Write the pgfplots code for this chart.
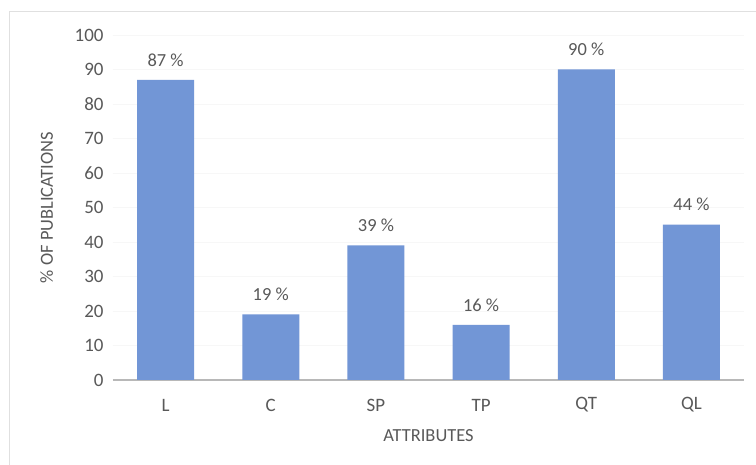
\documentclass[border=0pt]{standalone}
\usepackage{fontspec}
\setmainfont{Carlito}
\usepackage{pgfplots}
\pgfplotsset{compat=1.18}
\definecolor{barblue}{RGB}{114,150,214}
\definecolor{txt}{RGB}{89,89,89}
\begin{document}
\begin{tikzpicture}[x=1bp,y=1bp]
\useasboundingbox (-113,-85) rectangle (643,380);
\fill[white] (-113,-85) rectangle (643,380);
\draw[black!12, line width=1bp] (-103,-85) -- (-103,368) -- (643,368);
\begin{axis}[
  at={(0,0)}, anchor=south west,
  scale only axis, width=631bp, height=345bp,
  xmin=-0.5, xmax=5.5, ymin=0, ymax=100,
  axis x line*=bottom, axis y line*=left,
  x axis line style={draw=black!28, line width=1.3bp, -},
  y axis line style={draw=none},
  ytick={0,10,...,100},
  xtick={0,1,2,3,4,5},
  xticklabels={L,C,SP,TP,QT,QL},
  major tick length=0pt,
  ymajorgrids, grid style={draw=black!3, line width=0.8bp},
  /pgf/number format/assume math mode=true,
  tick label style={font=\fontsize{19}{22}\selectfont, text=txt},
  yticklabel style={xshift=-6bp},
  xticklabel style={anchor=center, yshift=-25bp},
  xlabel={ATTRIBUTES}, ylabel={\% OF PUBLICATIONS},
  label style={font=\fontsize{18.5}{22}\selectfont, text=txt},
  xlabel style={at={(axis description cs:0.5,-0.162)}, anchor=center},
  ylabel style={at={(axis description cs:-0.105,0.5)}, anchor=center},
  ybar, bar width=57bp,
  nodes near coords,
  point meta=explicit symbolic,
  every node near coord/.append style={font=\fontsize{18.5}{22}\selectfont, text=txt, anchor=center, yshift=20bp},
]
\addplot[fill=barblue, draw=none] table[meta=lab] {
x y lab
0 87 {87~\%}
1 19 {19~\%}
2 39 {39~\%}
3 16 {16~\%}
4 90 {90~\%}
5 45 {44~\%}
};
\end{axis}
\end{tikzpicture}
\end{document}
